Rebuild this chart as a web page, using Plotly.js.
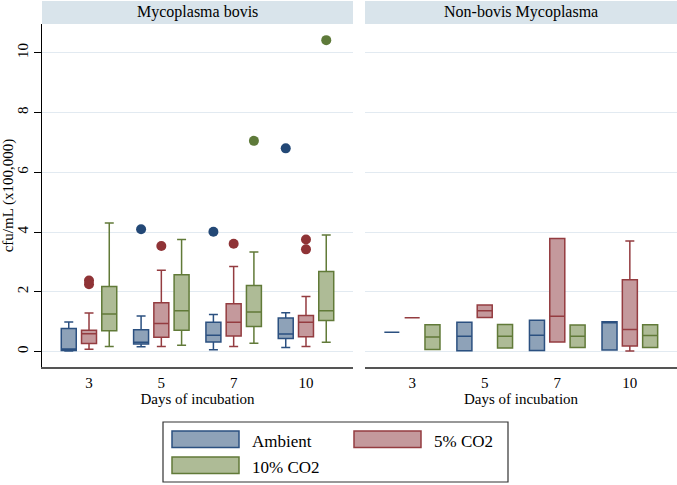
<!DOCTYPE html>
<html>
<head>
<meta charset="utf-8">
<script src="https://cdn.plot.ly/plotly-3.0.1.min.js"></script>
<style>
  body { margin: 0; background: #fff; }
  #chart { width: 677px; height: 485px; }
</style>
</head>
<body>
<div id="chart"></div>
<script>
// --- data (cfu/mL x100,000) ---
const days = ["3", "5", "7", "10"];
const groups = ["Ambient", "5% CO2", "10% CO2"];
const panels = ["Mycoplasma bovis", "Non-bovis Mycoplasma"];

// Mycoplasma bovis
const bovisAmbLow = [0.02, 0.16, 0.06, 0.14];
const bovisAmbQ1 = [0.04, 0.25, 0.32, 0.44];
const bovisAmbMed = [0.09, 0.31, 0.55, 0.59];
const bovisAmbQ3 = [0.77, 0.73, 0.98, 1.12];
const bovisAmbHigh = [0.99, 1.19, 1.24, 1.30];
const bovisAmbOut = [[], [4.09], [4.01], [6.80]];

const bovisCo5Low = [0.08, 0.17, 0.17, 0.17];
const bovisCo5Q1 = [0.27, 0.48, 0.52, 0.50];
const bovisCo5Med = [0.60, 0.94, 0.98, 0.98];
const bovisCo5Q3 = [0.71, 1.63, 1.60, 1.21];
const bovisCo5High = [1.29, 2.72, 2.85, 1.84];
const bovisCo5Out = [[2.25, 2.38], [3.53], [3.61], [3.42, 3.75]];

const bovisCo10Low = [0.17, 0.21, 0.28, 0.31];
const bovisCo10Q1 = [0.70, 0.71, 0.84, 1.04];
const bovisCo10Med = [1.26, 1.37, 1.32, 1.37];
const bovisCo10Q3 = [2.18, 2.57, 2.21, 2.68];
const bovisCo10High = [4.30, 3.75, 3.33, 3.90];
const bovisCo10Out = [[], [], [7.05], [10.42]];

// Non-bovis Mycoplasma
const otherAmbLow = [0.65, 0.03, 0.04, 0.05];
const otherAmbQ1 = [0.65, 0.03, 0.04, 0.05];
const otherAmbMed = [0.65, 0.51, 0.55, 1.00];
const otherAmbQ3 = [0.65, 0.98, 1.05, 1.00];
const otherAmbHigh = [0.65, 0.98, 1.05, 1.00];

const otherCo5Low = [1.13, 1.14, 0.32, 0.02];
const otherCo5Q1 = [1.13, 1.14, 0.32, 0.19];
const otherCo5Med = [1.13, 1.37, 1.18, 0.74];
const otherCo5Q3 = [1.13, 1.56, 3.78, 2.40];
const otherCo5High = [1.13, 1.56, 3.78, 3.70];

const otherCo10Low = [0.07, 0.12, 0.14, 0.14];
const otherCo10Q1 = [0.07, 0.12, 0.14, 0.14];
const otherCo10Med = [0.49, 0.51, 0.51, 0.54];
const otherCo10Q3 = [0.90, 0.91, 0.89, 0.90];
const otherCo10High = [0.90, 0.91, 0.89, 0.90];

// --- style ---
const FONT = "Liberation Serif";
const edgeColors = ["#2b5080", "#943c40", "#617a38"];
const fillColors = ["#8ea2b8", "#c4999c", "#aebb96"];
const dotColors = ["#234876", "#8f3336", "#5e7a3a"];
const offsets = [-0.28, 0, 0.28];
const BOX_W = 0.207;

const boxTrace = (g, xa, ya, low, q1, med, q3, high) => ({
  type: "box",
  xaxis: xa, yaxis: ya,
  x: days.map((_, i) => i + offsets[g]),
  lowerfence: low, q1: q1, median: med, q3: q3, upperfence: high,
  width: BOX_W,
  whiskerwidth: 0.6,
  fillcolor: fillColors[g],
  line: { color: edgeColors[g], width: 1.5 },
  boxpoints: false,
  name: groups[g],
  showlegend: false,
  hoverinfo: "skip"
});

const outlierTrace = (g, xa, ya, out) => {
  const xs = [], ys = [];
  out.forEach((vals, i) => vals.forEach(v => { xs.push(i + offsets[g]); ys.push(v); }));
  return {
    type: "scatter", mode: "markers",
    xaxis: xa, yaxis: ya, x: xs, y: ys,
    marker: { color: dotColors[g], size: 10 },
    showlegend: false, hoverinfo: "skip"
  };
};

const data = [
  boxTrace(0, "x", "y", bovisAmbLow, bovisAmbQ1, bovisAmbMed, bovisAmbQ3, bovisAmbHigh),
  boxTrace(1, "x", "y", bovisCo5Low, bovisCo5Q1, bovisCo5Med, bovisCo5Q3, bovisCo5High),
  boxTrace(2, "x", "y", bovisCo10Low, bovisCo10Q1, bovisCo10Med, bovisCo10Q3, bovisCo10High),
  outlierTrace(0, "x", "y", bovisAmbOut),
  outlierTrace(1, "x", "y", bovisCo5Out),
  outlierTrace(2, "x", "y", bovisCo10Out),
  boxTrace(0, "x2", "y2", otherAmbLow, otherAmbQ1, otherAmbMed, otherAmbQ3, otherAmbHigh),
  boxTrace(1, "x2", "y2", otherCo5Low, otherCo5Q1, otherCo5Med, otherCo5Q3, otherCo5High),
  boxTrace(2, "x2", "y2", otherCo10Low, otherCo10Q1, otherCo10Med, otherCo10Q3, otherCo10High)
];

// --- layout helpers: pixel -> paper coordinates ---
const M = { l: 42, r: 0, t: 24, b: 118 };
const PW = 677 - M.l - M.r, PH = 485 - M.t - M.b;
const px = x => (x - M.l) / PW;
const py = y => (485 - M.b - y) / PH;

const domains = [[0, px(353)], [px(365), 1]];

const xAxis = (dom) => ({
  domain: dom,
  range: [-0.65, 3.65],
  tickvals: days.map((_, i) => i),
  ticktext: days,
  ticks: "outside", ticklen: 1, tickcolor: "rgba(0,0,0,0)",
  tickfont: { family: FONT, size: 15, color: "#000" },
  showline: true, linecolor: "#555", linewidth: 1.5,
  showgrid: false, zeroline: false,
  title: { text: "Days of incubation", font: { family: FONT, size: 15, color: "#000" }, standoff: 1 }
});

const shapes = [];
const annotations = [];

// panel headers
panels.forEach((p, k) => {
  shapes.push({
    type: "rect", xref: "paper", yref: "paper",
    x0: domains[k][0], x1: domains[k][1], y0: py(24), y1: py(1),
    fillcolor: "#d9e4eb", line: { width: 0 }, layer: "below"
  });
  annotations.push({
    xref: "paper", yref: "paper", xanchor: "center", yanchor: "middle",
    x: (domains[k][0] + domains[k][1]) / 2, y: py(12.5),
    text: p, showarrow: false,
    font: { family: FONT, size: 16, color: "#000" }
  });
});

// legend
shapes.push({
  type: "rect", xref: "paper", yref: "paper",
  x0: px(163), x1: px(508), y0: py(482), y1: py(422),
  line: { color: "#333", width: 1.2 }, fillcolor: "rgba(0,0,0,0)"
});
const legendSpots = [[172, 431], [354, 431], [172, 457]];
groups.forEach((g, i) => {
  const [lx, ly] = legendSpots[i];
  shapes.push({
    type: "rect", xref: "paper", yref: "paper",
    x0: px(lx), x1: px(lx + 67), y0: py(ly + 16.5), y1: py(ly),
    fillcolor: fillColors[i], line: { color: edgeColors[i], width: 1.5 }
  });
  annotations.push({
    xref: "paper", yref: "paper", xanchor: "left", yanchor: "middle",
    x: px(lx + 78), y: py(ly + 10),
    text: g, showarrow: false,
    font: { family: FONT, size: 17, color: "#000" }
  });
});

const layout = {
  width: 677, height: 485,
  margin: M,
  paper_bgcolor: "#fff", plot_bgcolor: "#fff",
  font: { family: FONT, color: "#000" },
  showlegend: false,
  xaxis: xAxis(domains[0]),
  xaxis2: { ...xAxis(domains[1]), anchor: "y2" },
  yaxis: {
    range: [-0.516, 10.96],
    tickvals: [0, 2, 4, 6, 8, 10],
    tickangle: -90,
    ticks: "outside", ticklen: 7, tickcolor: "#000",
    tickfont: { family: FONT, size: 15, color: "#000" },
    showline: true, linecolor: "#000", linewidth: 1,
    gridcolor: "#e2eaf1", zeroline: false,
    title: { text: "cfu/mL (x100,000)", font: { family: FONT, size: 15, color: "#000" }, standoff: 4 }
  },
  yaxis2: {
    matches: "y", anchor: "x2",
    tickvals: [0, 2, 4, 6, 8, 10],
    showticklabels: false, ticks: "",
    showline: false, gridcolor: "#e2eaf1", zeroline: false
  },
  shapes: shapes,
  annotations: annotations
};

Plotly.newPlot("chart", data, layout, { displayModeBar: false, staticPlot: true });
</script>
</body>
</html>
